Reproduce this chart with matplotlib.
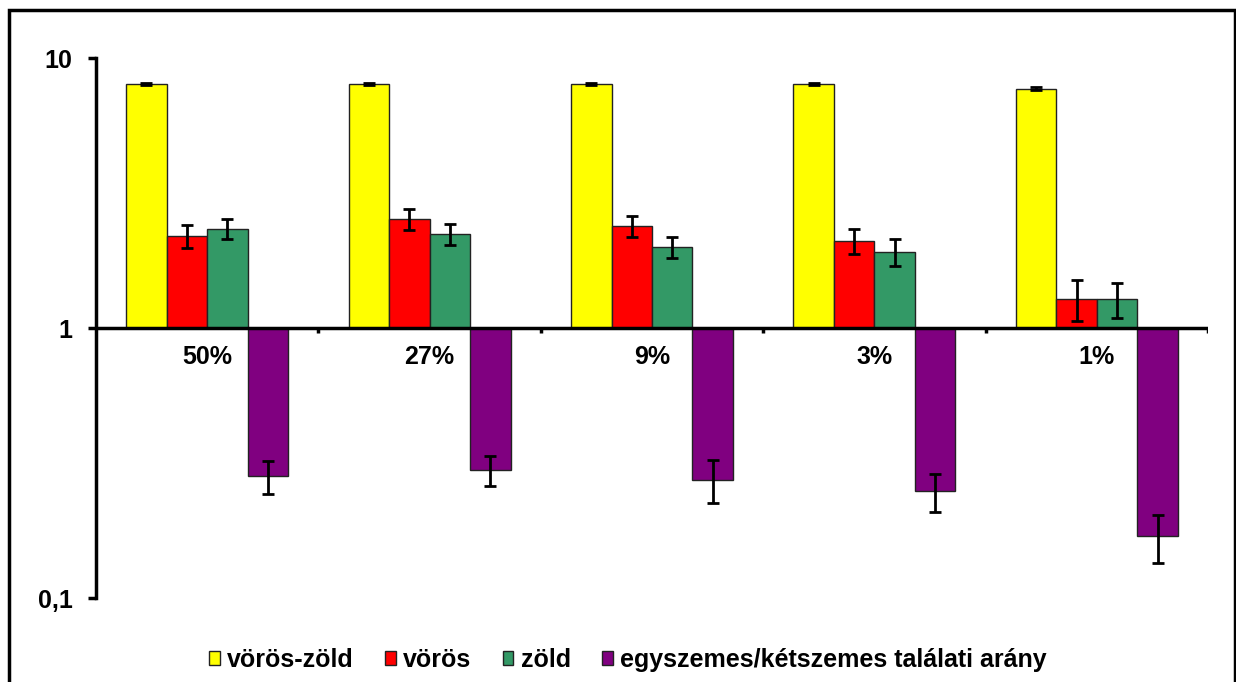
import numpy as np
import matplotlib.pyplot as plt
from matplotlib.patches import Rectangle

plt.rcParams['font.family'] = ['Liberation Sans', 'DejaVu Sans']
plt.rcParams['font.weight'] = 'bold'

categories = ['50%', '27%', '9%', '3%', '1%']
series_names = ['vörös-zöld', 'vörös', 'zöld', 'egyszemes/kétszemes találati arány']
colors = ['#FFFF00', '#FF0000', '#339966', '#800080']

voros_zold = [8.0, 8.0, 8.0, 8.0, 7.7]
voros_zold_err = [0.08, 0.08, 0.08, 0.08, 0.08]
voros = [2.19, 2.53, 2.39, 2.10, 1.28]
voros_err = [0.22, 0.22, 0.21, 0.22, 0.22]
zold = [2.33, 2.23, 2.00, 1.91, 1.28]
zold_err = [0.20, 0.20, 0.18, 0.22, 0.19]
arany = [0.283, 0.298, 0.274, 0.249, 0.169]
arany_err = [0.040, 0.037, 0.050, 0.040, 0.034]

values = [voros_zold, voros, zold, arany]
errors = [voros_zold_err, voros_err, zold_err, arany_err]

fig = plt.figure(figsize=(12.36, 6.82), dpi=100)
ax = fig.add_axes([96 / 1236, 1 - 598 / 682, 1112 / 1236, 540 / 682])
ax.set_yscale('log')
ax.set_ylim(0.1, 10)
ax.set_xlim(0, len(categories))

x = np.arange(len(categories)) + 0.5
width = 0.182
for i, (vals, errs, col, name) in enumerate(zip(values, errors, colors, series_names)):
    pos = x + (i - 1.5) * width
    vals = np.array(vals)
    ax.bar(pos, vals - 1, bottom=1, width=width, color=col, edgecolor='#222222',
           linewidth=1, label=name, zorder=2)
    ax.errorbar(pos, vals, yerr=errs, fmt='none', ecolor='black', elinewidth=2,
                capsize=4, capthick=2, zorder=3)

# baseline at 1 with small ticks between groups
ax.axhline(1, color='black', linewidth=2.5, zorder=4)
ax.vlines(np.arange(1, len(categories) + 1), 0.955, 1, color='black', linewidth=2.5, zorder=4)

for xi, lab in zip(x, categories):
    ax.text(xi, 0.78, lab, ha='center', va='center', fontsize=18, fontweight='bold')

ax.set_yticks([0.1, 1, 10])
ax.set_yticklabels(['0,1', '1', '10'])
ax.yaxis.set_minor_locator(plt.NullLocator())
ax.tick_params(axis='y', which='major', length=6, width=2.5, labelsize=18, pad=11)
ax.set_xticks([])
for s in ['top', 'right', 'bottom']:
    ax.spines[s].set_visible(False)
ax.spines['left'].set_linewidth(2.5)

fig.legend(loc='center', bbox_to_anchor=(628 / 1236, 1 - 660 / 682), ncol=4, frameon=False,
           prop={'family': 'Liberation Sans', 'weight': 'bold', 'size': 18},
           handlelength=0.42, handleheight=0.5, handletextpad=0.3,
           columnspacing=1.25)

# outer frame of the figure, its bottom edge falls outside the canvas
fig.patches.append(Rectangle((9 / 1236, -0.05), 1226 / 1236, 1.05 - 10 / 682,
                             transform=fig.transFigure, fill=False, edgecolor='black',
                             linewidth=2.5, clip_on=False))

fig.savefig('out.png', dpi=100)
